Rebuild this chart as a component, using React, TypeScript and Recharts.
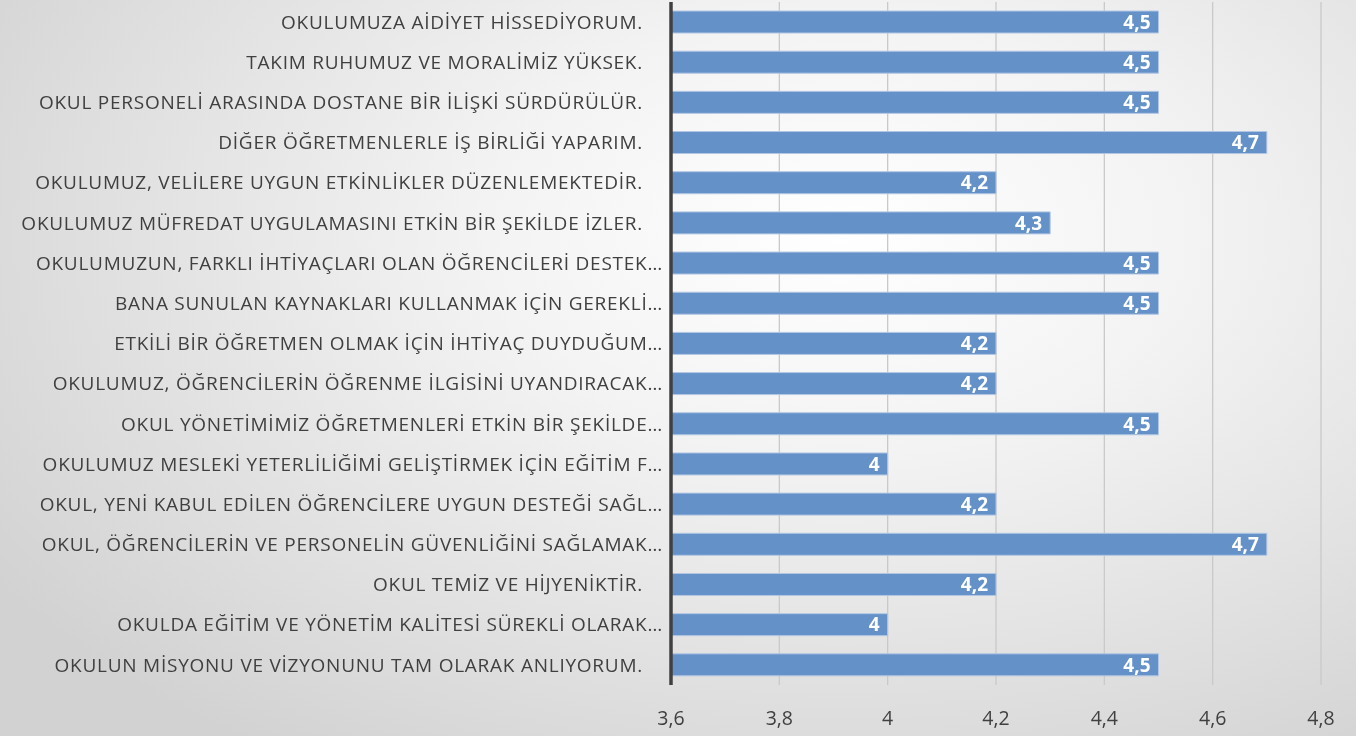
import React from 'react';
import { BarChart, Bar, XAxis, YAxis, CartesianGrid, LabelList } from 'recharts';

const categories = [
    'OKULUMUZA AİDİYET HİSSEDİYORUM.',
    'TAKIM RUHUMUZ VE MORALİMİZ YÜKSEK.',
    'OKUL PERSONELİ ARASINDA DOSTANE BİR İLİŞKİ SÜRDÜRÜLÜR.',
    'DİĞER ÖĞRETMENLERLE İŞ BİRLİĞİ YAPARIM.',
    'OKULUMUZ, VELİLERE UYGUN ETKİNLİKLER DÜZENLEMEKTEDİR.',
    'OKULUMUZ MÜFREDAT UYGULAMASINI ETKİN BİR ŞEKİLDE İZLER.',
    'OKULUMUZUN, FARKLI İHTİYAÇLARI OLAN ÖĞRENCİLERİ DESTEK…',
    'BANA SUNULAN KAYNAKLARI KULLANMAK İÇİN GEREKLİ…',
    'ETKİLİ BİR ÖĞRETMEN OLMAK İÇİN İHTİYAÇ DUYDUĞUM…',
    'OKULUMUZ, ÖĞRENCİLERİN ÖĞRENME İLGİSİNİ UYANDIRACAK…',
    'OKUL YÖNETİMİMİZ ÖĞRETMENLERİ ETKİN BİR ŞEKİLDE…',
    'OKULUMUZ MESLEKİ YETERLİLİĞİMİ GELİŞTİRMEK İÇİN EĞİTİM F…',
    'OKUL, YENİ KABUL EDİLEN ÖĞRENCİLERE UYGUN DESTEĞİ SAĞL…',
    'OKUL, ÖĞRENCİLERİN VE PERSONELİN GÜVENLİĞİNİ SAĞLAMAK…',
    'OKUL TEMİZ VE HİJYENİKTİR.',
    'OKULDA EĞİTİM VE YÖNETİM KALİTESİ SÜREKLİ OLARAK…',
    'OKULUN MİSYONU VE VİZYONUNU TAM OLARAK ANLIYORUM.',
];

const scores = [4.5, 4.5, 4.5, 4.7, 4.2, 4.3, 4.5, 4.5, 4.2, 4.2, 4.5, 4, 4.2, 4.7, 4.2, 4, 4.5];

const xTicks = [3.6, 3.8, 4, 4.2, 4.4, 4.6, 4.8];

const data = categories.map((name, i) => ({ name, value: scores[i] }));

const FONT = '"Open Sans", sans-serif';
const comma = (v: any) => String(v).replace('.', ',');

const CategoryTick = (props: any) => {
    const { x, y, payload } = props;
    const text: string = payload.value;
    const shift = text.endsWith('…') ? 0 : -20;
    return (
        <text
            x={x + shift}
            y={y}
            dy="0.35em"
            textAnchor="end"
            fill="#404040"
            fontSize={19}
            letterSpacing={0.75}
            fontFamily={FONT}
        >
            {text}
        </text>
    );
};

export default function App() {
    return (
        <div
            style={{
                position: 'fixed',
                left: 0,
                top: 0,
                width: 1356,
                height: 736,
                background: 'radial-gradient(ellipse 75% 85% at 62% 32%, #ffffff 0%, #f3f3f3 35%, #d2d2d2 100%)',
            }}
        >
            <BarChart
                width={1356}
                height={736}
                data={data}
                layout="vertical"
                margin={{ top: 2, right: 35, bottom: 0, left: 0 }}
                barSize={22}
            >
                <CartesianGrid horizontal={false} stroke="#c9c9c9" strokeWidth={1.3} />
                <XAxis
                    type="number"
                    domain={[3.6, 4.8]}
                    ticks={xTicks}
                    height={51}
                    axisLine={false}
                    tickLine={false}
                    tickSize={6}
                    tickMargin={20}
                    tickFormatter={comma}
                    tick={{ fill: '#404040', fontSize: 19.5, fontFamily: FONT }}
                    allowDataOverflow
                />
                <YAxis
                    type="category"
                    dataKey="name"
                    width={671}
                    axisLine={{ stroke: '#404040', strokeWidth: 3.5 }}
                    tickLine={false}
                    tickSize={0}
                    tickMargin={8}
                    interval={0}
                    tick={<CategoryTick />}
                />
                <Bar dataKey="value" fill="#6591c9" stroke="#b2c7e3" strokeWidth={1} isAnimationActive={false}>
                    <LabelList
                        dataKey="value"
                        position="insideRight"
                        offset={8}
                        formatter={comma}
                        fill="#ffffff"
                        fontWeight="bold"
                        fontSize={19}
                        fontFamily={FONT}
                    />
                </Bar>
            </BarChart>
        </div>
    );
}
